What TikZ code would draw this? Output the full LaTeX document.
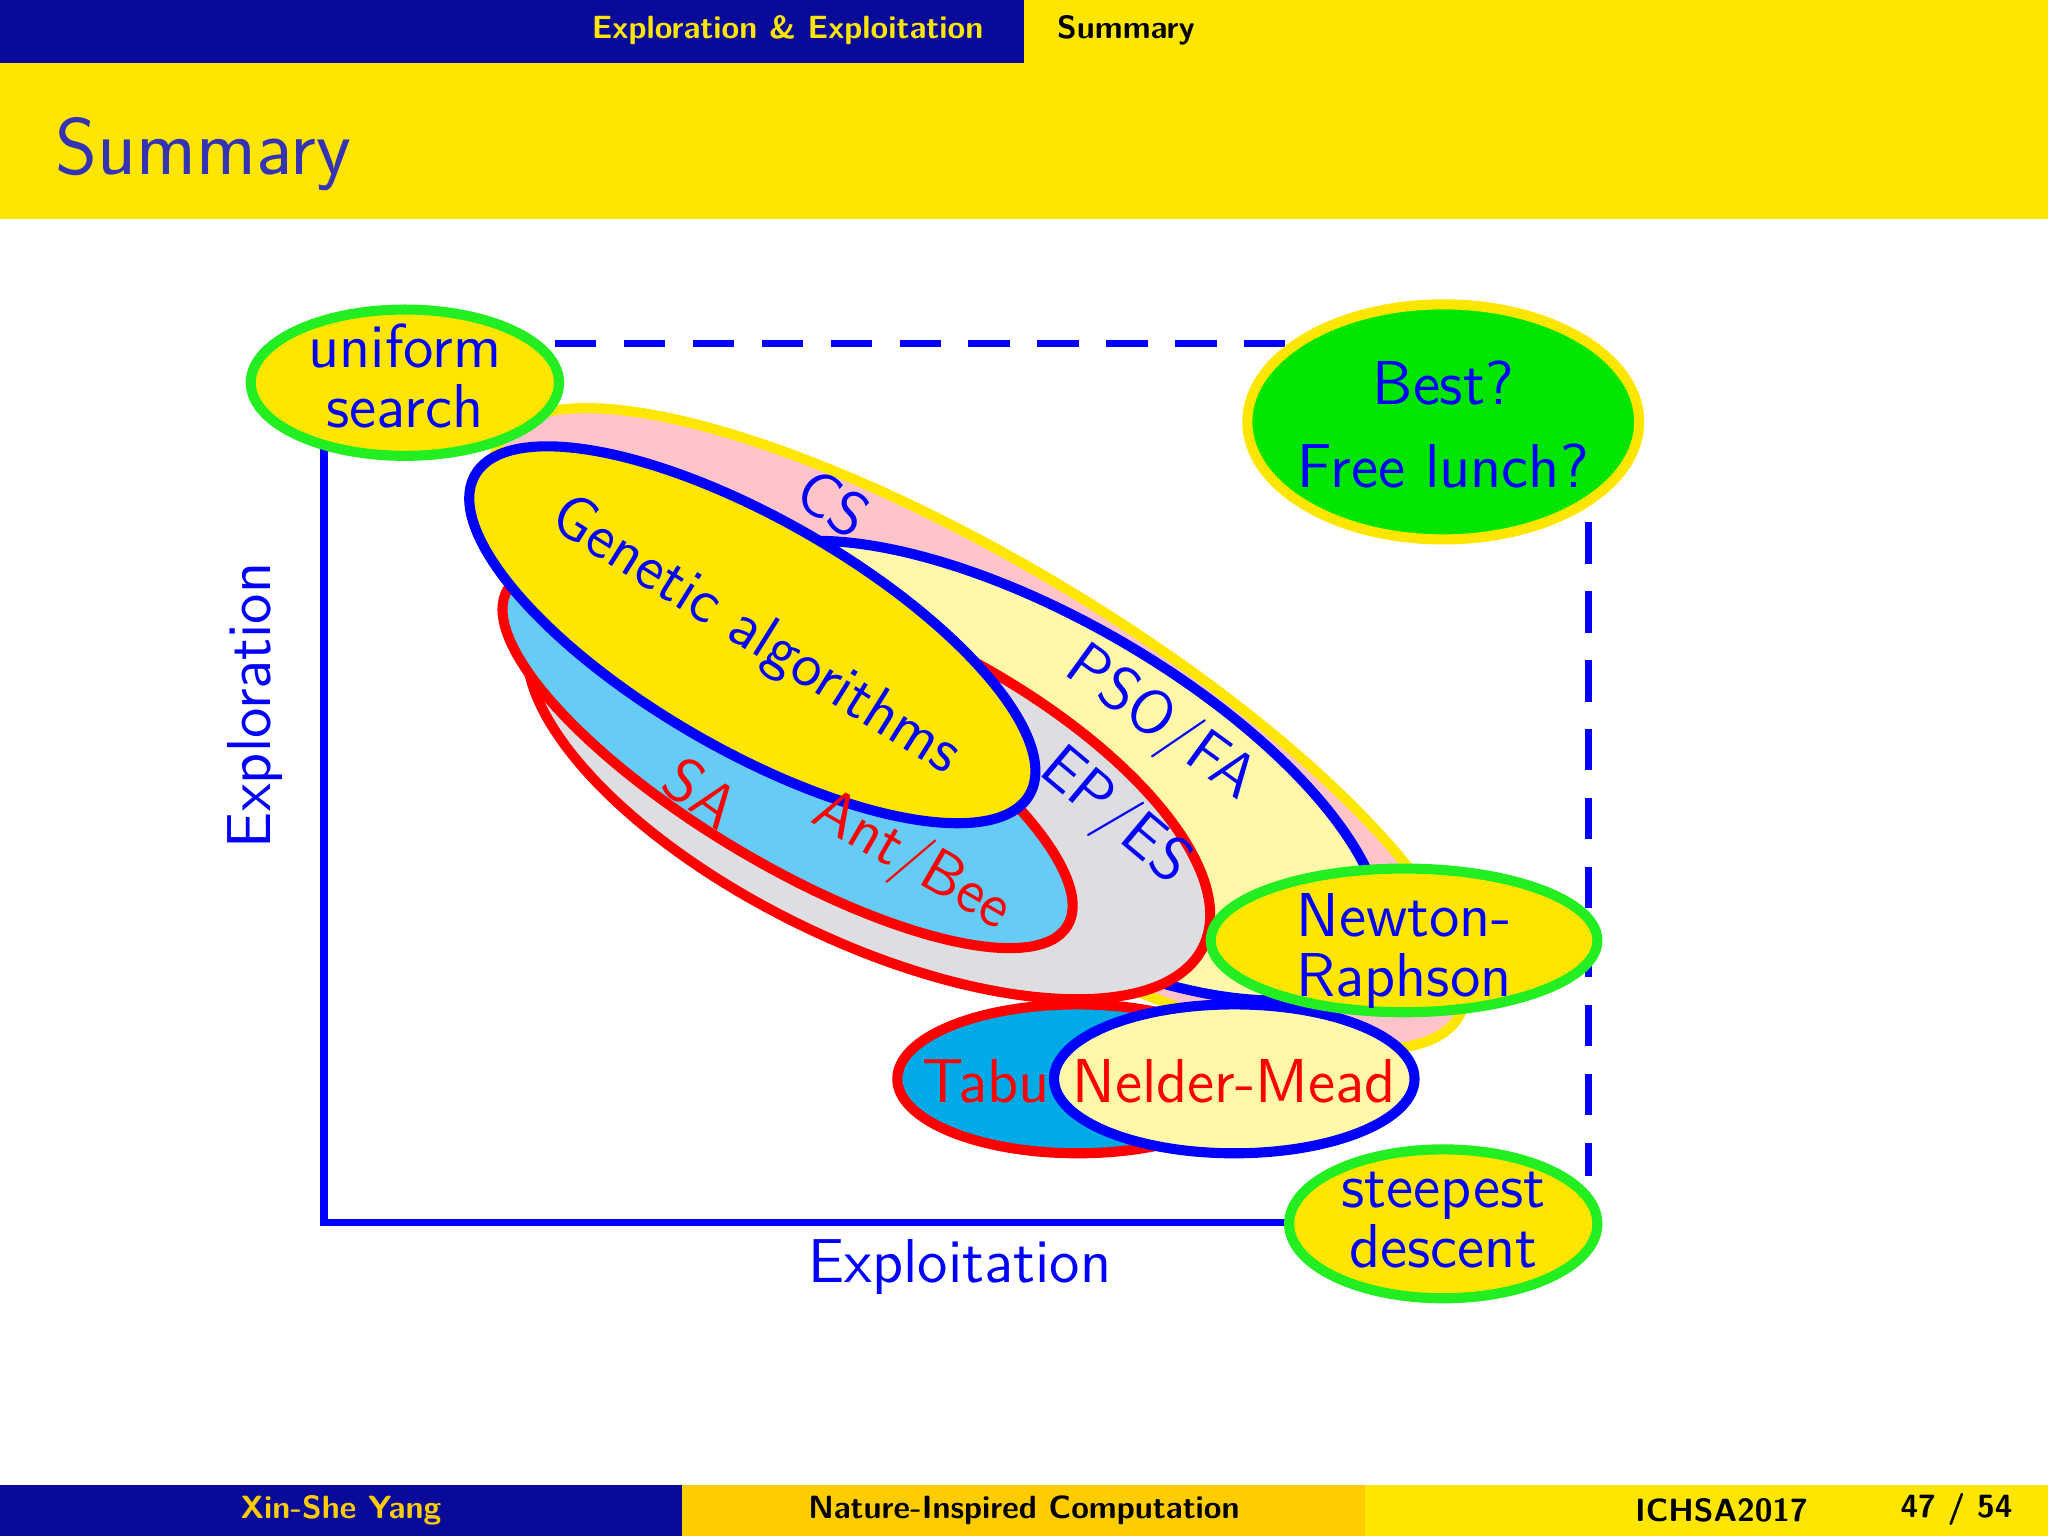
\documentclass[tikz,border=0pt]{standalone}
\usepackage{tikz}
\begin{document}
\definecolor{dblue}{HTML}{0A0A9A}
\definecolor{byel}{HTML}{FFE600}
\definecolor{bgold}{HTML}{FFCC00}
\definecolor{tblue}{HTML}{3333B3}
\definecolor{pinkf}{HTML}{FFC4CA}
\definecolor{lyel}{HTML}{FFF8A8}
\definecolor{lblue}{HTML}{66CCF5}
\definecolor{tabuf}{HTML}{00AAE6}
\definecolor{grayf}{HTML}{DDDDE2}
\definecolor{gfill}{HTML}{00E600}
\definecolor{gbord}{HTML}{22EE22}
\begin{tikzpicture}[x=0.01cm,y=-0.01cm,font=\sffamily,
  el/.style={line width=2.2pt},
  lbl/.style={font=\sffamily\fontsize{13.5}{15}\selectfont},
  bar/.style={font=\sffamily\bfseries\fontsize{7}{8}\selectfont}]
\useasboundingbox (0,0) rectangle (1568,1176);
% header
\fill[dblue] (0,0) rectangle (784,48);
\fill[byel] (784,0) rectangle (1568,168);
\fill[byel] (0,48) rectangle (784,168);
\node[bar,text=byel] (h1) at (603,23) {Exploration \& Exploitation};
\node[bar,text=black] (h2) at (862,23) {Summary};
\node[anchor=west,text=tblue,font=\sffamily\fontsize{17.5}{20}\selectfont] (title) at (30,118) {Summary};
% footer
\fill[dblue] (0,1137) rectangle (522,1176);
\fill[bgold] (522,1137) rectangle (1045,1176);
\fill[byel] (1045,1137) rectangle (1568,1176);
\node[bar,text=bgold] (f1) at (261,1156) {Xin-She Yang};
\node[bar,text=black] (f2) at (784,1156) {Nature-Inspired Computation};
\node[bar,text=black] (f3) at (1318,1156) {ICHSA2017};
\node[bar,text=black] (f4) at (1498,1156) {47 / 54};
% axes
\coordinate (o) at (248,936);
\coordinate (yt) at (248,340);
\coordinate (xr) at (990,936);
\coordinate (tl) at (425,263);
\coordinate (tr) at (990,263);
\coordinate (rt) at (1216,400);
\coordinate (rb) at (1216,900);
\draw[blue,line width=1.6pt] (yt) -- (o) -- (xr);
\draw[blue,line width=1.6pt,dash pattern=on 9pt off 6pt] (tl) -- (tr);
\draw[blue,line width=1.6pt,dash pattern=on 9pt off 6pt] (rt) -- (rb);
\node[lbl,blue,rotate=90] (ylab) at (195,540) {Exploration};
\node[lbl,blue] (xlab) at (735,970) {Exploitation};
% ellipses
\draw[el,draw=byel,fill=pinkf,rotate around={-31:(750,558)}] (750,558) ellipse (428 and 126);
\draw[el,draw=blue,fill=lyel,rotate around={-30:(800,590)}] (800,590) ellipse (290 and 115);
\draw[el,draw=red,fill=grayf,rotate around={-26:(665,600)}] (665,600) ellipse (285 and 120);
\draw[el,draw=red,fill=lblue,rotate around={-31:(603,580)}] (603,580) ellipse (250 and 80);
\draw[el,draw=blue,fill=byel,rotate around={-30:(576,486)}] (576,486) ellipse (245 and 88);
\node[lbl,blue,rotate=-33] (cs) at (638,385) {CS};
\node[lbl,blue,rotate=-32] (ga) at (578,488) {Genetic algorithms};
\node[lbl,blue,rotate=-36] (pso) at (888,555) {PSO/FA};
\node[lbl,blue,rotate=-40] (ep) at (853,626) {EP/ES};
\node[lbl,red,rotate=-36] (sa) at (537,607) {SA};
\node[lbl,red,rotate=-30] (ant) at (698,660) {Ant/Bee};
% Tabu / Nelder-Mead
\draw[el,draw=red,fill=tabuf] (825,826) ellipse (138 and 57);
\draw[el,draw=blue,fill=lyel] (945,826) ellipse (138 and 57);
\node[lbl,red] (tabu) at (755,828) {Tabu};
\node[lbl,red] (nm) at (945,828) {Nelder-Mead};
% corner ellipses
\draw[el,draw=gbord,fill=byel] (1075,720) ellipse (148 and 55);
\node[lbl,blue,align=center,font=\sffamily\fontsize{13.5}{13}\selectfont] (nr) at (1075,728) {Newton-\\Raphson};
\draw[el,draw=gbord,fill=byel] (310,293) ellipse (118 and 56);
\node[lbl,blue,align=center,font=\sffamily\fontsize{13.5}{13}\selectfont] (us) at (310,288) {uniform\\search};
\draw[el,draw=byel,fill=gfill] (1105,323) ellipse (150 and 90);
\node[lbl,blue,align=center,font=\sffamily\fontsize{13.5}{18}\selectfont] (best) at (1105,325) {Best?\\Free lunch?};
\draw[el,draw=gbord,fill=byel] (1105,937) ellipse (118 and 57);
\node[lbl,blue,align=center,font=\sffamily\fontsize{13.5}{13}\selectfont] (sd) at (1105,934) {steepest\\descent};
\end{tikzpicture}
\end{document}
